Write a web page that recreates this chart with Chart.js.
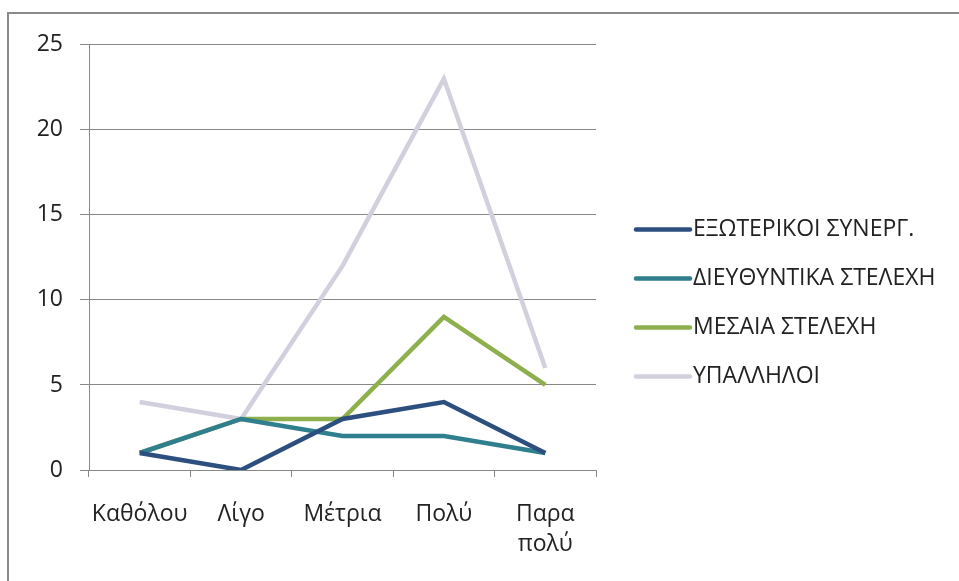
<!DOCTYPE html>
<html>
<head>
<meta charset="utf-8">
<script src="https://cdn.jsdelivr.net/npm/chart.js@4/dist/chart.umd.min.js"></script>
<style>
    html, body { margin: 0; padding: 0; background: #fff; overflow: hidden; }
    #frame {
        position: absolute;
        left: 7px; top: 12px;
        width: 1000px; height: 700px;
        border-left: 2px solid #8a8a8a;
        border-top: 2px solid #8a8a8a;
    }
    #wrap { position: absolute; left: 10px; top: 14px; width: 949px; height: 567px; }
</style>
</head>
<body>
<div id="frame"></div>
<div id="wrap"><canvas id="lineChart"></canvas></div>
<script>
// categories (x axis)
const categories = ['Καθόλου', 'Λίγο', 'Μέτρια', 'Πολύ', ['Παρα', 'πολύ']];

// series values
const exoterikoi = [1, 0, 3, 4, 1];
const dieythyntika = [1, 3, 2, 2, 1];
const mesaia = [1, 3, 3, 9, 5];
const ypalliloi = [4, 3, 12, 23, 6];

const seriesNames = ['ΕΞΩΤΕΡΙΚΟΙ ΣΥΝΕΡΓ.', 'ΔΙΕΥΘΥΝΤΙΚΑ ΣΤΕΛΕΧΗ', 'ΜΕΣΑΙΑ ΣΤΕΛΕΧΗ', 'ΥΠΑΛΛΗΛΟΙ'];
const seriesColors = ['#2c4f7f', '#2f7f8f', '#8db04c', '#d3d0de'];

// y axis
const yMin = 0;
const yMax = 25;
const yStep = 5;

const FONT = 'Open Sans';
const axisGray = '#888888';
const textColor = '#222222';

function makeDataset(i, values) {
    return {
        label: seriesNames[i],
        data: values,
        borderColor: seriesColors[i],
        backgroundColor: seriesColors[i],
        borderWidth: 4.5,
        tension: 0,
        fill: false,
        pointRadius: 0,
        pointHoverRadius: 0
    };
}

// legend on the right, drawn from the datasets (the built-in one gets squeezed)
const sideLegend = {
    id: 'sideLegend',
    afterDraw(chart) {
        const c = chart.ctx;
        const x0 = chart.chartArea.right + 40;
        const midY = 289;
        const step = 49;
        const n = chart.data.datasets.length;
        c.save();
        c.font = '23px "' + FONT + '"';
        c.textBaseline = 'middle';
        c.textAlign = 'left';
        chart.data.datasets.forEach((ds, i) => {
            const y = midY + (i - (n - 1) / 2) * step;
            c.strokeStyle = ds.borderColor;
            c.lineWidth = 4.5;
            c.lineCap = 'round';
            c.beginPath();
            c.moveTo(x0, y);
            c.lineTo(x0 + 54, y);
            c.stroke();
            c.fillStyle = textColor;
            c.fillText(ds.label, x0 + 57, y);
        });
        c.restore();
    }
};

const ctx = document.getElementById('lineChart').getContext('2d');
const chart = new Chart(ctx, {
    type: 'line',
    data: {
        labels: categories,
        datasets: [
            makeDataset(0, exoterikoi),
            makeDataset(1, dieythyntika),
            makeDataset(2, mesaia),
            makeDataset(3, ypalliloi)
        ]
    },
    options: {
        responsive: true,
        maintainAspectRatio: false,
        animation: false,
        layout: {
            padding: { top: 26, left: 0, right: 363, bottom: 18 }
        },
        scales: {
            x: {
                offset: true,
                grid: {
                    offset: true,
                    drawOnChartArea: false,
                    drawTicks: true,
                    tickLength: 7,
                    color: axisGray
                },
                border: { color: axisGray },
                ticks: {
                    color: textColor,
                    padding: 23,
                    maxRotation: 0,
                    autoSkip: false,
                    font: { family: FONT, size: 23, lineHeight: 1.3 }
                },
                afterFit: (scale) => { scale.height = 93; }
            },
            y: {
                min: yMin,
                max: yMax,
                ticks: {
                    stepSize: yStep,
                    color: textColor,
                    padding: 17,
                    font: { family: FONT, size: 23 }
                },
                grid: {
                    color: axisGray,
                    tickLength: 9
                },
                border: { color: axisGray },
                afterFit: (scale) => { scale.width = 79; }
            }
        },
        plugins: {
            legend: { display: false },
            tooltip: { enabled: false }
        }
    },
    plugins: [sideLegend]
});
</script>
</body>
</html>
